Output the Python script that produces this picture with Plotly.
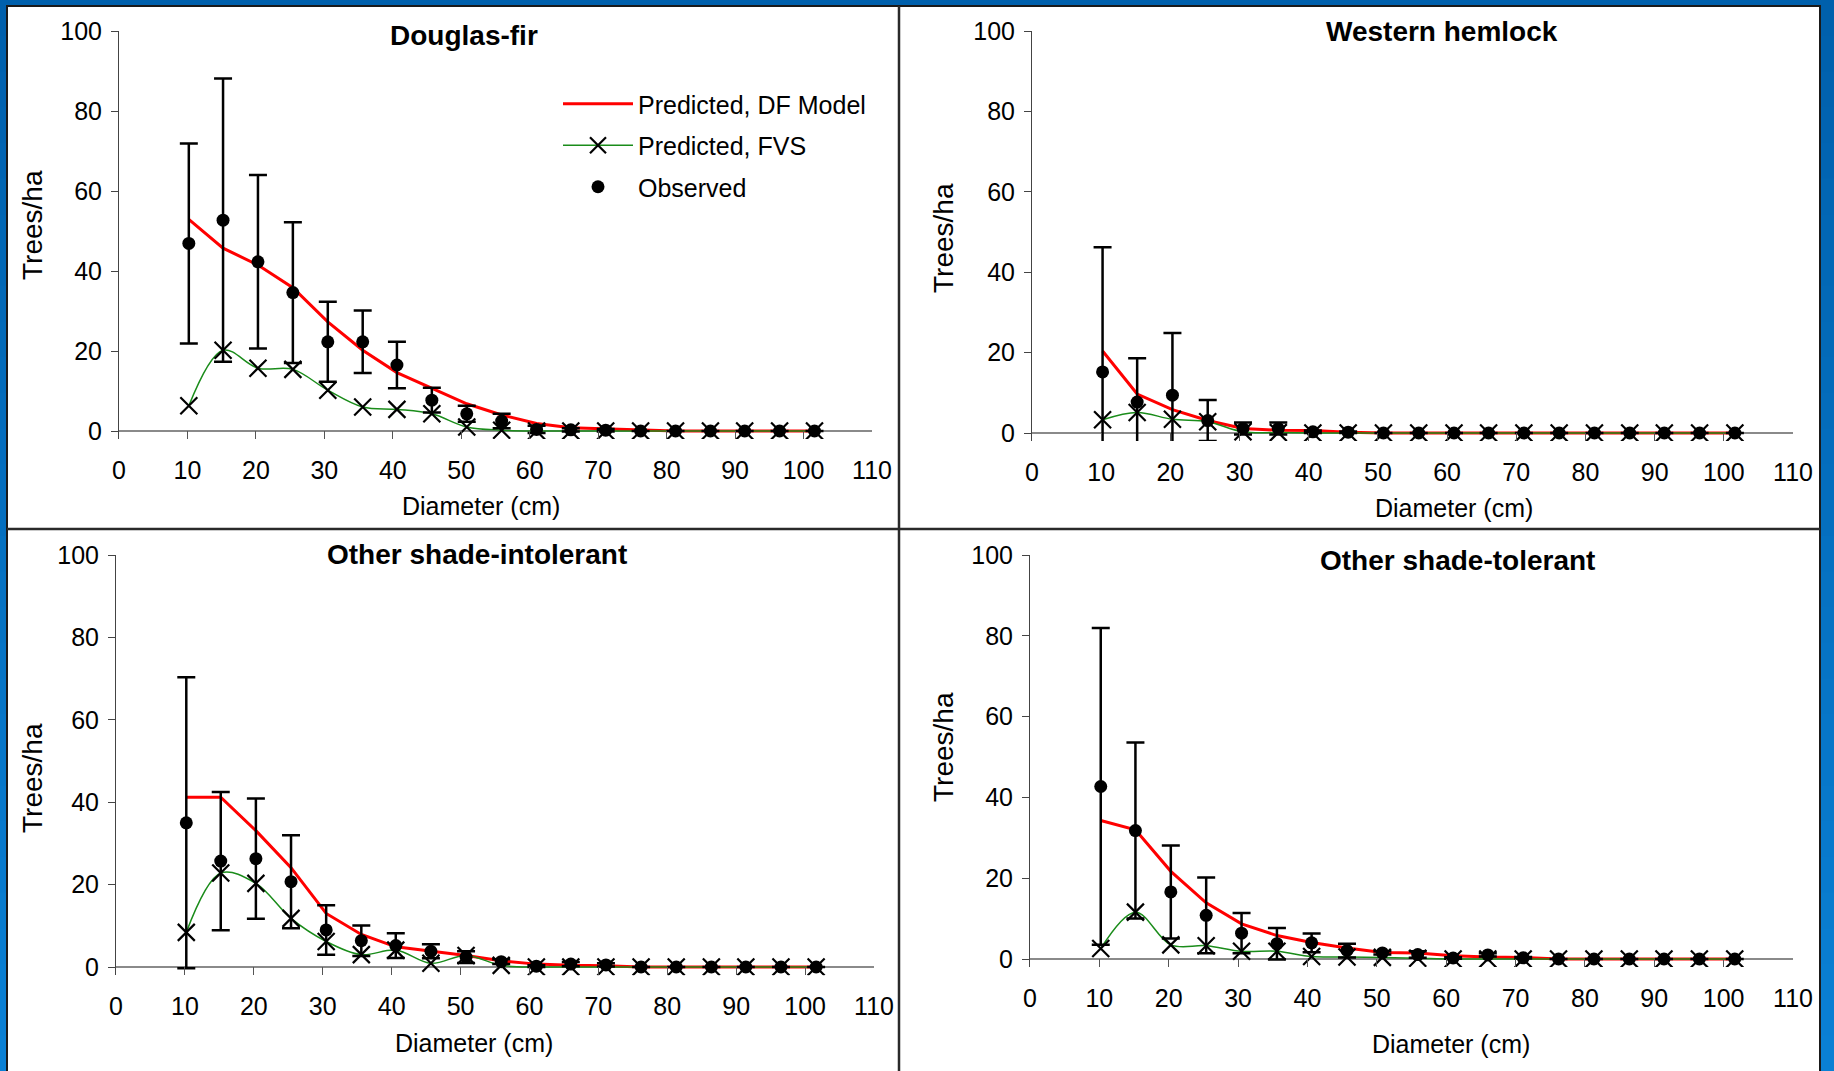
import plotly.graph_objects as go

# Diameter class midpoints (cm), 4 to 40 inch classes
diameter = [10.2, 15.2, 20.3, 25.4, 30.5, 35.6, 40.6, 45.7, 50.8, 55.9,
            61.0, 66.0, 71.1, 76.2, 81.3, 86.4, 91.4, 96.5, 101.6]

x_ticks = [0, 10, 20, 30, 40, 50, 60, 70, 80, 90, 100, 110]
y_ticks = [0, 20, 40, 60, 80, 100]

# Douglas-fir
df_pred_douglas = [52.9, 45.7, 41.5, 35.8, 27.3, 20.2, 14.6, 10.8, 6.8, 4.0,
                   1.9, 0.8, 0.5, 0.2, 0, 0, 0, 0, 0]
fvs_pred_douglas = [6.3, 20.2, 15.7, 15.4, 10.2, 6.0, 5.4, 4.3, 1.0, 0.2,
                    0, 0, 0, 0, 0, 0, 0, 0, 0]
obs_douglas = [46.9, 52.7, 42.3, 34.6, 22.3, 22.3, 16.5, 7.7, 4.3, 2.5,
               0.4, 0.3, 0.2, 0, 0, 0, 0, 0, 0]
err_douglas = [25.0, 35.4, 21.7, 17.6, 10.0, 7.8, 5.8, 3.1, 2.0, 1.8,
               0.9, 0.4, 0.3, 0, 0, 0, 0, 0, 0]

# Western hemlock
df_pred_hemlock = [20.4, 9.7, 5.8, 3.1, 1.1, 0.7, 0.6, 0.2, 0, 0,
                   0, 0, 0, 0, 0, 0, 0, 0, 0]
fvs_pred_hemlock = [3.3, 5.1, 3.4, 2.8, 0.3, 0.1, 0, 0, 0, 0,
                    0, 0, 0, 0, 0, 0, 0, 0, 0]
obs_hemlock = [15.2, 7.7, 9.4, 3.1, 1.1, 1.1, 0.3, 0.2, 0, 0,
               0, 0, 0, 0, 0, 0, 0, 0, 0]
err_hemlock = [31.0, 10.9, 15.5, 5.1, 1.5, 1.5, 0.3, 0.2, 0, 0,
               0, 0, 0, 0, 0, 0, 0, 0, 0]

# Other shade-intolerant
df_pred_intolerant = [41.2, 41.2, 33.1, 24.1, 13.0, 7.9, 4.9, 3.8, 2.8, 1.5,
                      0.7, 0.4, 0.3, 0, 0, 0, 0, 0, 0]
fvs_pred_intolerant = [8.4, 22.8, 20.3, 11.8, 6.2, 3.0, 4.1, 0.9, 2.8, 0.4,
                       0, 0, 0, 0, 0, 0, 0, 0, 0]
obs_intolerant = [35.0, 25.7, 26.3, 20.7, 9.0, 6.4, 5.2, 3.8, 2.4, 1.3,
                  0.2, 0.7, 0.5, 0, 0, 0, 0, 0, 0]
err_intolerant = [35.3, 16.8, 14.6, 11.3, 6.0, 3.7, 3.0, 1.7, 1.4, 0.6,
                  0.2, 0.5, 0.4, 0, 0, 0, 0, 0, 0]

# Other shade-tolerant
df_pred_tolerant = [34.3, 32.0, 21.7, 13.9, 8.7, 5.8, 4.1, 2.7, 1.6, 1.5,
                    0.8, 0.5, 0.4, 0, 0, 0, 0, 0, 0]
fvs_pred_tolerant = [2.6, 11.6, 3.5, 3.3, 1.9, 1.9, 0.6, 0.5, 0.4, 0.2,
                     0, 0, 0, 0, 0, 0, 0, 0, 0]
obs_tolerant = [42.7, 31.8, 16.6, 10.8, 6.4, 3.8, 4.0, 2.1, 1.5, 1.1,
                0.25, 1.0, 0.3, 0, 0, 0, 0, 0, 0]
err_tolerant = [39.2, 21.8, 11.5, 9.4, 5.0, 3.9, 2.3, 1.7, 0.4, 0.8,
                0.2, 0.4, 0.2, 0, 0, 0, 0, 0, 0]

W, H = 1834, 1071
FONT = "Liberation Sans, Arial, sans-serif"
FS = 25
TITLE_FS = 28
YTITLE_FS = 28


def px_x(p):
    return p / W


def px_y(p):
    return 1 - p / H


# panel geometry in pixels: (left, right, y_at_100, y_at_0)
panels = [
    dict(name="Douglas-fir", box=(119, 872, 31, 431), title=(464, 36),
         ytitle=(32, 225), xtitle=(481, 506),
         data=(df_pred_douglas, fvs_pred_douglas, obs_douglas, err_douglas)),
    dict(name="Western hemlock", box=(1032, 1793, 31, 433), title=(1442, 31),
         ytitle=(943, 238), xtitle=(1454, 508),
         data=(df_pred_hemlock, fvs_pred_hemlock, obs_hemlock, err_hemlock)),
    dict(name="Other shade-intolerant", box=(116, 874, 555, 967), title=(477, 554),
         ytitle=(32, 778), xtitle=(474, 1043),
         data=(df_pred_intolerant, fvs_pred_intolerant, obs_intolerant, err_intolerant)),
    dict(name="Other shade-tolerant", box=(1030, 1793, 555, 959), title=(1457, 560),
         ytitle=(943, 747), xtitle=(1451, 1044),
         data=(df_pred_tolerant, fvs_pred_tolerant, obs_tolerant, err_tolerant)),
]

Y_LOW = -2.0  # small strip below zero that holds the x tick marks

fig = go.Figure()
layout_axes = {}
annotations = []

for i, p in enumerate(panels):
    k = "" if i == 0 else str(i + 1)
    xa, ya = "x" + k, "y" + k
    left, right, y100, y0 = p["box"]
    unit = (y0 - y100) / 100.0
    bottom = y0 - Y_LOW * unit
    df_pred, fvs_pred, obs, err = p["data"]
    first = i == 0

    fig.add_trace(go.Scatter(
        x=diameter, y=df_pred, mode="lines", name="Predicted, DF Model",
        line=dict(color="#FF0000", width=3), xaxis=xa, yaxis=ya,
        showlegend=first, legendgroup="df", legendrank=1))
    fig.add_trace(go.Scatter(
        x=diameter, y=fvs_pred, mode="lines+markers", name="Predicted, FVS",
        line=dict(color="#1A8C1A", width=1.5, shape="spline", smoothing=1),
        marker=dict(symbol="x-thin", size=17, line=dict(color="black", width=2.2)),
        xaxis=xa, yaxis=ya, showlegend=first, legendgroup="fvs", legendrank=2))
    fig.add_trace(go.Scatter(
        x=diameter, y=obs, mode="markers", name="Observed",
        marker=dict(symbol="circle", size=13, color="black"),
        error_y=dict(type="data", array=err, symmetric=True,
                     color="black", thickness=2.5, width=9),
        xaxis=xa, yaxis=ya, showlegend=first, legendgroup="obs", legendrank=3))

    ax_font = dict(family=FONT, size=FS, color="black")
    layout_axes["xaxis" + k] = dict(
        domain=[px_x(left), px_x(right)], range=[0, 110], anchor=ya,
        tickmode="array", tickvals=x_ticks, ticks="inside",
        ticklen=round(bottom - y0), tickwidth=1, tickcolor="#555555",
        showline=False, zeroline=False, showgrid=False, automargin=False,
        tickfont=ax_font, ticklabelstandoff=14, fixedrange=True)
    layout_axes["yaxis" + k] = dict(
        domain=[px_y(bottom), px_y(y100)], range=[Y_LOW, 100], anchor=xa,
        tickmode="array", tickvals=y_ticks, ticks="outside", ticklen=7,
        tickwidth=1, tickcolor="#444444", showline=True, linecolor="#444444",
        linewidth=1, showgrid=False, zeroline=True, zerolinecolor="#8a8a8a",
        zerolinewidth=1.5, tickfont=ax_font, ticklabelstandoff=4,
        automargin=False, fixedrange=True)

    tx, ty = p["title"]
    annotations.append(dict(
        text="<b>" + p["name"] + "</b>", x=px_x(tx), y=px_y(ty),
        xref="paper", yref="paper", xanchor="center", yanchor="middle",
        showarrow=False, font=dict(family=FONT, size=TITLE_FS, color="black")))
    yx, yy = p["ytitle"]
    annotations.append(dict(
        text="Trees/ha", x=px_x(yx), y=px_y(yy), xref="paper", yref="paper",
        xanchor="center", yanchor="middle", textangle=-90, showarrow=False,
        font=dict(family=FONT, size=YTITLE_FS, color="black")))
    xx, xy = p["xtitle"]
    annotations.append(dict(
        text="Diameter (cm)", x=px_x(xx), y=px_y(xy), xref="paper", yref="paper",
        xanchor="center", yanchor="middle", showarrow=False,
        font=dict(family=FONT, size=FS, color="black")))

# slide background: vertical blue gradient built from thin bands
shapes = []
n_bands = 30
top_rgb = (0, 96, 172)
bot_rgb = (10, 128, 212)
for b in range(n_bands):
    t = b / (n_bands - 1)
    r, g, bl = (round(top_rgb[j] + (bot_rgb[j] - top_rgb[j]) * t) for j in range(3))
    shapes.append(dict(
        type="rect", xref="paper", yref="paper", x0=0, x1=1,
        y0=1 - (b + 1) / n_bands - 0.001, y1=1 - b / n_bands,
        fillcolor=f"rgb({r},{g},{bl})", line=dict(width=0), layer="below"))

shapes += [
    # white slide area with dark outline
    dict(type="rect", xref="paper", yref="paper", x0=px_x(7), x1=px_x(1820),
         y0=-0.01, y1=px_y(6), fillcolor="white",
         line=dict(color="#1a1a1a", width=2), layer="below"),
    # panel dividers
    dict(type="line", xref="paper", yref="paper", x0=px_x(899), x1=px_x(899),
         y0=0, y1=px_y(6), line=dict(color="#2a2a2a", width=2.5), layer="below"),
    dict(type="line", xref="paper", yref="paper", x0=px_x(7), x1=px_x(1820),
         y0=px_y(529), y1=px_y(529), line=dict(color="#2a2a2a", width=2.5),
         layer="below"),
]

fig.update_layout(
    width=W, height=H, autosize=False,
    margin=dict(l=0, r=0, t=0, b=0, pad=0),
    paper_bgcolor="#0066B3", plot_bgcolor="rgba(0,0,0,0)",
    font=dict(family=FONT, size=FS, color="black"),
    showlegend=True,
    legend=dict(
        x=px_x(558), y=px_y(81), xanchor="left", yanchor="top",
        bgcolor="rgba(0,0,0,0)", borderwidth=0, tracegroupgap=6,
        itemwidth=70, font=dict(family=FONT, size=FS, color="black"),
        traceorder="grouped"),
    annotations=annotations,
    shapes=shapes,
    **layout_axes,
)

# page body without default margins so the figure fills the window
fig.write_html(
    "out.html",
    post_script="document.body.style.margin='0';"
                "document.body.style.overflow='hidden';",
)
